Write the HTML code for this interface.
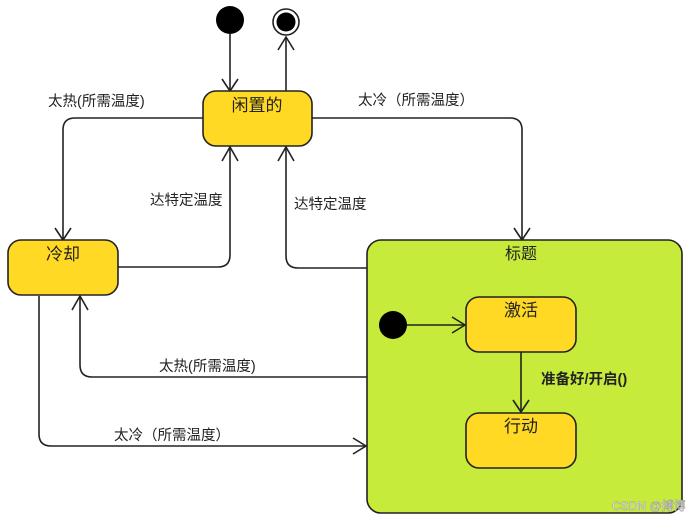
<!DOCTYPE html>
<html><head><meta charset="utf-8"><style>
html,body{margin:0;padding:0;background:#fff;width:692px;height:521px;overflow:hidden}
text{font-family:"Liberation Sans","Noto Sans CJK SC",sans-serif;fill:#222}
</style></head><body>
<svg width="692" height="521" viewBox="0 0 692 521" xmlns="http://www.w3.org/2000/svg">
<g fill="none" stroke="#222" stroke-width="1.6">
<path d="M230 34V91"/><path d="M222 79L230 91L238 79"/>
<path d="M286 91V37"/><path d="M278 50L286 37L294 50"/>
<path d="M203 118H75Q63 118 63 130V240"/><path d="M55 228L63 240L71 228"/>
<path d="M118 267H218Q230 267 230 255V147"/><path d="M222 161L230 147L238 161"/>
<path d="M367 268H298Q286 268 286 256V147"/><path d="M278 161L286 147L294 161"/>
<path d="M312 118H510Q522 118 522 130V240"/><path d="M514 228L522 240L530 228"/>
<path d="M367 377H92Q80 377 80 365V296"/><path d="M72 310L80 296L88 310"/>
<path d="M39 296V434Q39 446 51 446H367"/><path d="M353 438L366 446L353 454"/>
</g>
<circle cx="230" cy="20" r="14" fill="#000"/>
<circle cx="286" cy="22" r="13" fill="#fff" stroke="#222" stroke-width="1.6"/>
<circle cx="286" cy="22" r="9.5" fill="#000"/>
<rect x="203" y="91" width="109" height="55" rx="13" fill="#FFD923" stroke="#222" stroke-width="1.6"/>
<rect x="8" y="240" width="110" height="55" rx="13" fill="#FFD923" stroke="#222" stroke-width="1.6"/>
<rect x="367" y="240" width="315" height="273" rx="14" fill="#C7EB3B" stroke="#222" stroke-width="1.6"/>
<rect x="466" y="297" width="110" height="55" rx="13" fill="#FFD923" stroke="#222" stroke-width="1.6"/>
<rect x="466" y="413" width="110" height="55" rx="13" fill="#FFD923" stroke="#222" stroke-width="1.6"/>
<circle cx="393" cy="325" r="14" fill="#000"/>
<g fill="none" stroke="#222" stroke-width="1.6">
<path d="M407 325H465"/><path d="M452 317L465 325L452 333"/>
<path d="M521 352V412"/><path d="M513 400L521 412L529 400"/>
</g>
<g style="font-size:14.5px">
<text x="257" y="111" text-anchor="middle" style="font-size:17px">闲置的</text>
<text x="63" y="260" text-anchor="middle" style="font-size:17px">冷却</text>
<text x="521" y="259" text-anchor="middle" style="font-size:16px">标题</text>
<text x="521" y="316" text-anchor="middle" style="font-size:17px">激活</text>
<text x="521" y="432" text-anchor="middle" style="font-size:17px">行动</text>
<text x="48" y="106">太热(所需温度)</text>
<text x="358" y="105">太冷（所需温度）</text>
<text x="150" y="205">达特定温度</text>
<text x="294" y="209">达特定温度</text>
<text x="159" y="371">太热(所需温度)</text>
<text x="114" y="440">太冷（所需温度）</text>
<text x="541" y="384" font-weight="bold">准备好/开启()</text>
<text x="612" y="510" style="font-size:12px;fill:#fff;stroke:#999;stroke-width:0.5">CSDN @搏博</text>
</g>
</svg>
</body></html>
